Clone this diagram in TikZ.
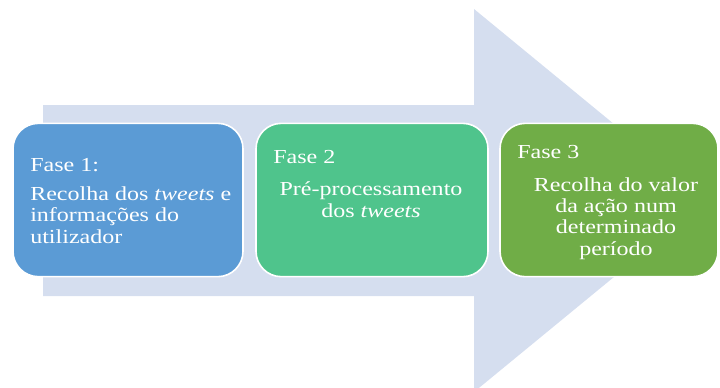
\documentclass[tikz,border=0pt]{standalone}
\usepackage{fontspec}
\setmainfont{Liberation Serif}[FakeStretch=1.21]
\definecolor{arrowfill}{HTML}{D5DEEF}
\definecolor{phaseone}{HTML}{5B9BD5}
\definecolor{phasetwo}{HTML}{4FC48C}
\definecolor{phasethree}{HTML}{70AD47}
\begin{document}
\begin{tikzpicture}[x=0.75pt,y=-0.75pt,
  phasebox/.style={draw=white, line width=1.2pt, rounded corners=19pt,
    minimum height=115pt, inner sep=0pt},
  phasetext/.style={text=white, inner sep=0pt,
    font=\fontsize{14.9}{16}\selectfont}]
\useasboundingbox (0,0) rectangle (720,387);
\clip (0,0) rectangle (720,387);

% background block arrow
\fill[arrowfill] (43,105) -- (474,105) -- (474,9) -- (707,200.5)
  -- (474,392) -- (474,296) -- (43,296) -- cycle;

% the three phases
\node[phasebox, fill=phaseone, minimum width=172.5pt] (p1) at (128,200) {};
\node[phasebox, fill=phasetwo, minimum width=174pt] (p2) at (372,200) {};
\node[phasebox, fill=phasethree, minimum width=163.5pt] (p3) at (609,200) {};

% labels (multi-line blocks are anchored at the baseline of their last line)
\node[phasetext, anchor=base west] (t1) at (30,171) {Fase 1:};
\node[phasetext, anchor=base west, align=left] (d1) at (30,243)
  {Recolha dos \textit{tweets} e\\informações do\\utilizador};

\node[phasetext, anchor=base west] (t2) at (273,163) {Fase 2};
\node[phasetext, anchor=base, align=center] (d2) at (371,217)
  {Pré-processamento\\dos \textit{tweets}};

\node[phasetext, anchor=base west] (t3) at (517,158) {Fase 3};
\node[phasetext, anchor=base, align=center] (d3) at (616,255)
  {Recolha do valor\\da ação num\\determinado\\período};
\end{tikzpicture}
\end{document}
